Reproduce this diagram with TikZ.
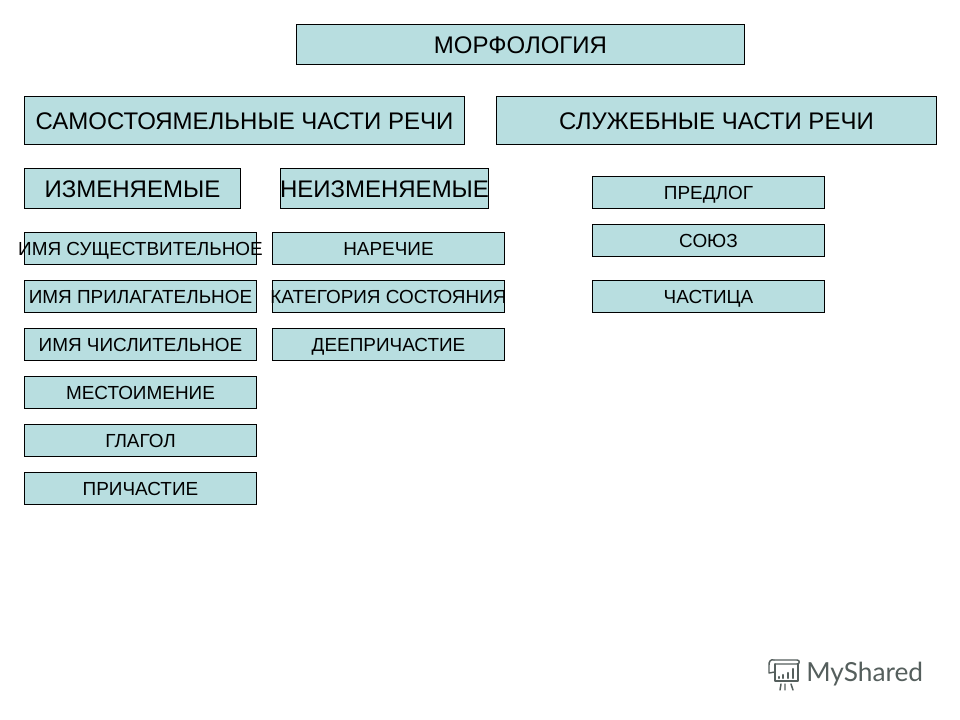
\documentclass[tikz,border=0pt]{standalone}
\usepackage{fontspec}
\setmainfont{Liberation Sans}
\newfontfamily\logofont{Lato}
\definecolor{boxfill}{HTML}{B8DEE0}
\definecolor{logogray}{HTML}{555F5D}
\tikzset{
  box/.style={draw=black,fill=boxfill,line width=0.75pt,inner sep=0pt,text=black,anchor=center,text depth=0pt},
  small/.style={box,minimum width=174.5pt,minimum height=24pt,text height=10pt,font=\fontsize{14.2}{16}\selectfont},
  mid/.style={box,minimum height=30.5pt,text height=12.9pt,font=\fontsize{18}{20}\selectfont},
  big/.style={box,minimum height=36.5pt,text height=12.9pt,font=\fontsize{18}{20}\selectfont},
  logo/.style={draw=logogray,line width=1.1pt,line cap=round,line join=round}
}
\begin{document}
\begin{tikzpicture}[x=0.75pt,y=-0.75pt]
\useasboundingbox (0,0) rectangle (960,720);
\fill[white] (0,0) rectangle (960,720);
\node[mid,minimum width=336.5pt] (morph) at (520.5,44.5) {МОРФОЛОГИЯ};
\node[big,minimum width=330.5pt] (sam) at (244.5,120.5) {САМОСТОЯМЕЛЬНЫЕ ЧАСТИ РЕЧИ};
\node[big,minimum width=330.5pt] (slu) at (716.5,120.5) {СЛУЖЕБНЫЕ ЧАСТИ РЕЧИ};
\node[mid,minimum width=162.5pt] (izm) at (132.5,188.5) {ИЗМЕНЯЕМЫЕ};
\node[mid,minimum width=156.5pt] (neizm) at (384.5,188.5) {\makebox[0pt]{НЕИЗМЕНЯЕМЫЕ}};
\node[small] (n1) at (140.5,248.5) {\makebox[0pt]{ИМЯ СУЩЕСТВИТЕЛЬНОЕ}};
\node[small] (n2) at (140.5,296.5) {ИМЯ ПРИЛАГАТЕЛЬНОЕ};
\node[small] (n3) at (140.5,344.5) {ИМЯ ЧИСЛИТЕЛЬНОЕ};
\node[small] (n4) at (140.5,392.5) {МЕСТОИМЕНИЕ};
\node[small] (n5) at (140.5,440.5) {ГЛАГОЛ};
\node[small] (n6) at (140.5,488.5) {ПРИЧАСТИЕ};
\node[small] (m1) at (388.5,248.5) {НАРЕЧИЕ};
\node[small] (m2) at (388.5,296.5) {\makebox[0pt]{КАТЕГОРИЯ СОСТОЯНИЯ}};
\node[small] (m3) at (388.5,344.5) {ДЕЕПРИЧАСТИЕ};
\node[small] (s1) at (708.5,192.5) {ПРЕДЛОГ};
\node[small] (s2) at (708.5,240.5) {СОЮЗ};
\node[small] (s3) at (708.5,296.5) {ЧАСТИЦА};
% watermark
\node[anchor=west,inner sep=0pt,text=logogray,font=\logofont\fontsize{19.7}{24}\selectfont] (mark) at (806,674) {MyShared};
\draw[logo] (774,660) -- (797,660) .. controls (800,660) and (800,664) .. (797,664) -- (775,664);
\draw[logo] (775,664) -- (775,681) -- (798,681) -- (798,664);
\draw[logo] (774,660) .. controls (770,659) and (769,662) .. (769,665) -- (769,673) -- (775,672);
\draw[logo] (781,684) -- (780,690) (785,684) -- (785,690) (791,684) -- (793,690);
\draw[logo,line width=1.7pt] (779,678) -- (779,677) (783,678) -- (783,675) (788,678) -- (788,673) (793,678) -- (793,669);
\end{tikzpicture}
\end{document}
